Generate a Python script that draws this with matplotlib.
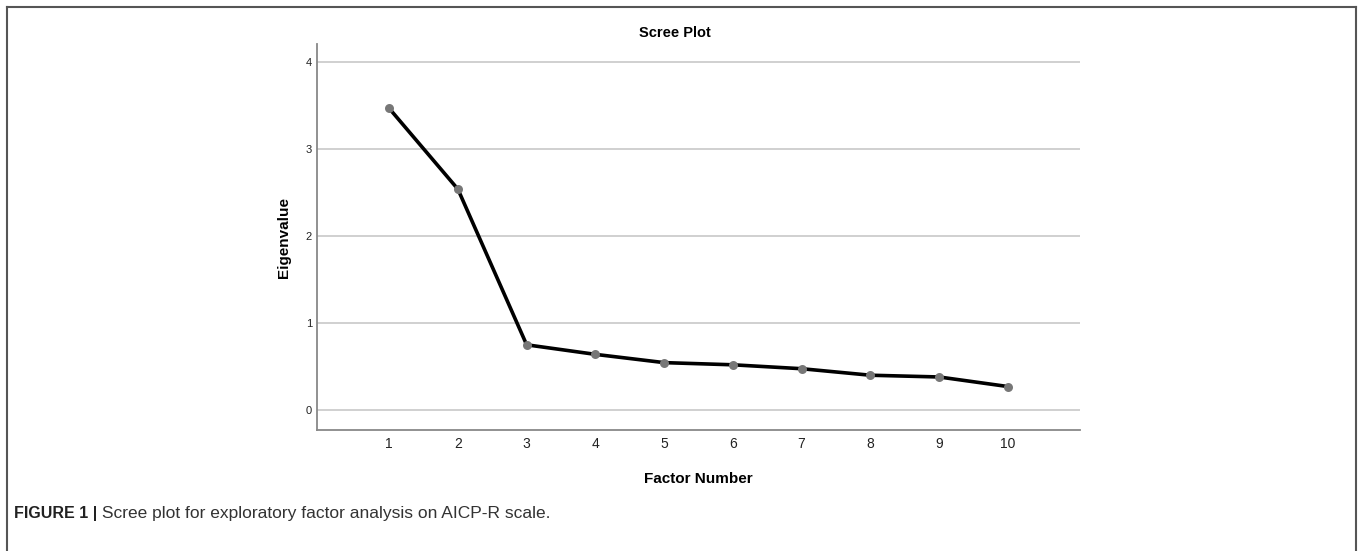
import matplotlib
matplotlib.use("Agg")
import matplotlib.pyplot as plt
from matplotlib.lines import Line2D

# Scree plot data
factors = [1, 2, 3, 4, 5, 6, 7, 8, 9, 10]
eigenvalues = [3.47, 2.54, 0.75, 0.64, 0.545, 0.52, 0.475, 0.40, 0.38, 0.27]
y_ticks = [0, 1, 2, 3, 4]

title = "Scree Plot"
x_label = "Factor Number"
y_label = "Eigenvalue"
caption_bold = "FIGURE 1 |"
caption_text = " Scree plot for exploratory factor analysis on AICP-R scale."

plt.rcParams['font.family'] = ['Liberation Sans', 'DejaVu Sans']

W, H = 1360, 551
fig = plt.figure(figsize=(W / 100, H / 100), dpi=100)
ax = fig.add_axes([317 / W, 1 - 430 / H, (1080 - 317) / W, (430 - 44) / H])

# light horizontal grid at the integer eigenvalues
for yv in y_ticks:
    ax.axhline(yv, color="#c8c8c8", lw=1.2, zorder=1)

ax.plot(factors, eigenvalues, color="black", lw=2.6, zorder=2)
ax.scatter(factors, eigenvalues, s=42, color="#777777", zorder=3, linewidths=0)

ax.set_xlim(-0.05, 11.05)
ax.set_ylim(-0.23, 4.21)
ax.set_xticks(factors)
ax.set_yticks(y_ticks)
ax.tick_params(axis="x", length=0, pad=5, labelsize=10, labelcolor="#222222")
ax.tick_params(axis="y", length=0, pad=3.5, labelsize=8, labelcolor="#222222")

for side in ["top", "right"]:
    ax.spines[side].set_visible(False)
for side in ["left", "bottom"]:
    ax.spines[side].set_color("#888888")
    ax.spines[side].set_linewidth(1.3)

# title sits a bit left of the axes centre, like the SPSS output
fig.text(675 / W, 1 - 37 / H, title, fontsize=10.5, fontweight="bold",
         ha="center", va="baseline")
ax.set_xlabel(x_label, fontsize=11, fontweight="bold", labelpad=15)
ax.set_ylabel(y_label, fontsize=11, fontweight="bold", labelpad=10.5)

# caption
cap_y = 1 - 518 / H
cap = fig.text(14 / W, cap_y, caption_bold, fontsize=11.5, fontweight="bold",
               va="baseline", color="#222222")
fig.canvas.draw()
bb = cap.get_window_extent()
fig.text(bb.x1 / W, cap_y, caption_text, fontsize=12.5, va="baseline", color="#333333")

# outer frame (left, top, right)
frame_kw = dict(color="#555555", lw=1.5, transform=fig.transFigure)
fig.add_artist(Line2D([7 / W, 7 / W], [0, 1 - 7 / H], **frame_kw))
fig.add_artist(Line2D([7 / W, 1356 / W], [1 - 7 / H, 1 - 7 / H], **frame_kw))
fig.add_artist(Line2D([1356 / W, 1356 / W], [0, 1 - 7 / H], **frame_kw))

fig.savefig("out.png", dpi=100)
